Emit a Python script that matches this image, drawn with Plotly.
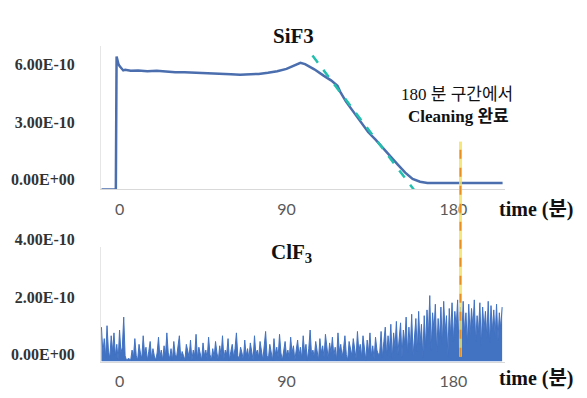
import numpy as np
import plotly.graph_objects as go

# window is 587x398; the page body has an 8px default margin, so the figure is
# drawn 8px smaller and all layout positions below are given in window pixels.
WIN_W, WIN_H, OFF = 587, 398, 8
W, H = WIN_W - OFF, WIN_H - OFF

# ---- SiF3 (top) : time in minutes, signal in units of 1E-10 ----
sif3_time = [-9.7, -2.0, -1.6, -1.2, -0.6, 0, 1, 2, 3, 6, 10, 15, 20, 25, 30, 35, 40, 45, 50,
             55, 60, 65, 70, 75, 80, 85, 90, 94, 97.5, 100, 105, 110, 114, 117.5, 119, 122,
             126, 130, 134, 138, 142, 146, 150, 154, 158, 162, 166, 170, 175, 180, 185,
             190, 195, 200, 206.5]
sif3_val = [0, 0, 6.95, 6.75, 6.55, 6.45, 6.3, 6.22, 6.25, 6.2, 6.22, 6.18, 6.2, 6.15, 6.12,
            6.13, 6.1, 6.08, 6.05, 6.04, 6.02, 6.0, 6.02, 6.04, 6.1, 6.18, 6.3, 6.45, 6.62,
            6.55, 6.28, 5.95, 5.7, 5.42, 5.1, 4.6, 4.05, 3.55, 3.0, 2.6, 2.15, 1.75, 1.3,
            0.88, 0.55, 0.4, 0.34, 0.33, 0.32, 0.33, 0.34, 0.33, 0.34, 0.33, 0.34]

# cleaning trend (dashed)
trend_time = [104.0, 160.5]
trend_val = [7.0, -0.25]

# ---- ClF3 (bottom) : sampled every 0.75 min from -9.75, units of 1E-10 ----
clf3_t0 = -9.75
clf3_dt = 0.75
clf3_val = [
    1.2, 0.3, 0.8, 0.15, 1.25, 0.4, 0.1, 0.9, 0.35, 1.0, 0.2, 0.6, 0.05, 1.1, 0.3, 0.5, 1.55, 0.2, 0.05, 0.1,
    0.1, 0.05, 0.4, 0.15, 0.8, 0.2, 0.05, 0.6, 0.3, 0.1, 0.9, 0.25, 0.5, 0.05, 0.35, 0.7, 0.1, 0.45, 0.2, 0.05,
    0.3, 0.85, 0.15, 0.4, 0.05, 0.55, 0.2, 1.0, 0.3, 0.1, 0.45, 0.05, 0.7, 0.25, 0.15, 0.5, 0.9, 0.1, 0.35, 0.2,
    0.05, 0.6, 0.3, 0.15, 0.75, 0.05, 0.4, 0.2, 0.95, 0.1, 0.5, 0.3, 0.05, 0.65, 0.2, 0.4, 0.1, 0.85, 0.25, 0.05,
    0.45, 0.15, 0.7, 0.3, 0.05, 0.55, 0.2, 0.9, 0.1, 0.4, 0.25, 0.8, 0.05, 0.35, 0.6, 0.15, 0.45, 1.0, 0.2, 0.1,
    0.5, 0.3, 0.05, 0.75, 0.2, 0.45, 0.1, 0.65, 0.35, 0.05, 0.9, 0.25, 0.4, 0.15, 0.7, 0.3, 0.05, 0.55, 1.05, 0.2,
    0.1, 0.6, 0.35, 0.05, 0.8, 0.25, 0.5, 0.15, 0.95, 0.3, 0.05, 0.45, 0.7, 0.2, 0.4, 0.1, 0.85, 0.3, 0.55, 0.05,
    0.35, 0.75, 0.2, 0.5, 0.1, 0.9, 0.3, 0.6, 0.05, 0.45, 1.1, 0.25, 0.4, 0.15, 0.7, 0.35, 0.05, 0.8, 0.3, 0.55,
    0.15, 0.95, 0.4, 0.1, 0.65, 0.3, 0.85, 0.2, 0.5, 0.05, 1.0, 0.35, 0.6, 0.15, 0.45, 0.9, 0.25, 0.05, 0.7, 0.4,
    0.2, 0.8, 0.5, 0.1, 1.05, 0.35, 0.6, 0.15, 0.9, 0.45, 0.05, 0.75, 0.3, 1.0, 0.2, 0.55, 0.1, 0.85, 0.4, 0.25,
    0.3, 1.05, 0.15, 0.7, 1.2, 0.2, 0.9, 0.4, 1.3, 0.1, 1.0, 0.5, 1.4, 0.25, 0.8, 1.35, 0.15, 1.1, 0.6, 1.55,
    0.3, 1.2, 0.45, 1.65, 0.2, 1.0, 1.5, 0.35, 1.75, 0.6, 1.3, 0.15, 1.6,
    0.5, 1.8, 0.9, 2.3, 0.4, 1.7, 1.1, 2.0, 0.3, 1.5, 0.8, 1.9, 0.6, 2.1, 1.0, 1.6, 0.2, 1.85, 0.9, 2.05,
    0.7, 1.75, 1.2, 2.15, 0.4, 1.9,
    0.8, 2.1, 1.0, 1.7, 0.6, 2.0, 0.9, 1.85, 1.2, 2.15, 0.7, 1.6, 1.0, 2.05, 0.55, 1.9, 1.1, 1.75, 0.85, 2.1,
    0.65, 1.95, 1.05, 1.8, 0.9, 2.0, 0.75, 1.7, 1.15, 1.9,
]

cleaning_time = 183.8

x_ticks = [0, 90, 180]
x_tick_text = ["0", "90", "180"]
top_y_ticks = [0, 3, 6]
top_y_text = ["0.00E+00", "3.00E-10", "6.00E-10"]
bot_y_ticks = [0, 2, 4]
bot_y_text = ["0.00E+00", "2.00E-10", "4.00E-10"]

SCALE = 1e-10
clf3_time = [clf3_t0 + clf3_dt * i for i in range(len(clf3_val))]

fig = go.Figure()
fig.add_trace(go.Scatter(x=sif3_time, y=np.array(sif3_val) * SCALE, mode="lines",
                         line=dict(color="#4a6eae", width=2.5), xaxis="x", yaxis="y",
                         showlegend=False))
fig.add_trace(go.Scatter(x=trend_time, y=np.array(trend_val) * SCALE, mode="lines",
                         line=dict(color="#22bfae", width=2.5, dash="dash"), xaxis="x", yaxis="y",
                         showlegend=False))
fig.add_trace(go.Scatter(x=clf3_time, y=np.array(clf3_val) * SCALE, mode="lines",
                         line=dict(color="#4272c2", width=1), fill="tozeroy",
                         fillcolor="#4272c2", xaxis="x2", yaxis="y2", showlegend=False))

def px(x):
    return (x - OFF) / W

def py(y):
    return 1 - (y - OFF) / H

xdom = [px(101), px(505)]
xrange_ = [-10, 207.8]
serif = "Liberation Serif, Noto Sans CJK KR, serif"
tickfont_x = dict(family="Lato, Liberation Sans, sans-serif", size=16, color="#595959")
tickfont_y = dict(family="Liberation Serif, serif", size=16, color="#333333", weight="bold")

common_x = dict(domain=xdom, range=xrange_, tickvals=x_ticks, ticktext=x_tick_text,
                showgrid=False, zeroline=False, showline=True, linecolor="#d9d9d9",
                linewidth=1, ticks="", tickfont=tickfont_x, ticklabelstandoff=5)

fig.update_layout(
    width=W, height=H, margin=dict(l=0, r=0, t=0, b=0),
    paper_bgcolor="white", plot_bgcolor="white",
    xaxis=dict(anchor="y", **common_x),
    yaxis=dict(domain=[py(182), py(32)], range=[0, 7.5 * SCALE],
               tickvals=[v * SCALE for v in top_y_ticks], ticktext=top_y_text,
               showgrid=False, zeroline=False, showline=True, linecolor="#e6e6e6",
               ticks="", tickfont=tickfont_y, ticklabelshift=-10, ticklabelstandoff=22),
    xaxis2=dict(anchor="y2", **common_x),
    yaxis2=dict(domain=[py(362), py(242)], range=[0, 4.0 * SCALE],
                tickvals=[v * SCALE for v in bot_y_ticks], ticktext=bot_y_text,
                showgrid=False, zeroline=False, showline=True, linecolor="#e6e6e6",
                ticks="", tickfont=tickfont_y, ticklabelshift=-7, ticklabelstandoff=22),
)

# cleaning-complete vertical marker spanning both panels
fig.add_shape(type="line", xref="x", yref="paper", x0=cleaning_time, x1=cleaning_time,
              y0=py(357), y1=py(132), line=dict(color="rgba(245,225,90,0.8)", width=3))
fig.add_shape(type="line", xref="x", yref="paper", x0=cleaning_time, x1=cleaning_time,
              y0=py(357), y1=py(132), line=dict(color="#e8901a", width=2, dash="dash"))

def ann(text, x, y, size, bold=False, family=serif):
    fig.add_annotation(text=f"<b>{text}</b>" if bold else text, x=px(x), y=py(y),
                       xref="paper", yref="paper", showarrow=False,
                       xanchor="center", yanchor="middle",
                       font=dict(family=family, size=size, color="#111111"))

ann("SiF3", 293, 22, 21, bold=True)
ann("ClF<sub>3</sub>", 291, 248, 21, bold=True)
ann("180 분 구간에서", 457, 83, 17)
ann("Cleaning 완료", 458, 106, 17, bold=True)
ann("time (분)", 536, 203, 20, bold=True)
ann("time (분)", 536, 380, 20, bold=True)

fig.write_html("out.html")
